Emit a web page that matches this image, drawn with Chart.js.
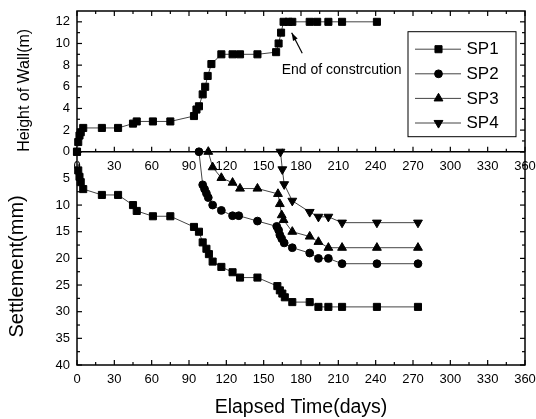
<!DOCTYPE html>
<html>
<head>
<meta charset="utf-8">
<style>
html,body{margin:0;padding:0;background:#fff;}
#wrap{width:536px;height:419px;position:relative;}
</style>
<script src="https://cdn.jsdelivr.net/npm/chart.js@4.4.1/dist/chart.umd.min.js"></script>
</head>
<body>
<div id="wrap"><canvas id="c" width="536" height="419"></canvas></div>
<script>
// ---------- data ----------
const xTicks = [0, 30, 60, 90, 120, 150, 180, 210, 240, 270, 300, 330, 360];
const heightTicks = [0, 2, 4, 6, 8, 10, 12];
const settleTicks = [0, 5, 10, 15, 20, 25, 30, 35, 40];
const seriesNames = ['SP1', 'SP2', 'SP3', 'SP4'];

const wallDays   = [0, 1, 2, 3, 5, 20, 33, 45, 48, 61, 75, 94, 96, 98, 101, 103, 105, 108, 116, 125, 131, 145, 160, 162, 164, 166, 170, 173, 187, 193, 202, 213, 241];
const wallHeight = [0, 0.9, 1.5, 1.8, 2.2, 2.2, 2.2, 2.6, 2.8, 2.8, 2.8, 3.3, 3.9, 4.2, 5.3, 6.0, 7.0, 8.1, 9.0, 9.0, 9.0, 9.0, 9.2, 10.0, 11.0, 12, 12, 12, 12, 12, 12, 12, 12];

const sp1Days   = [0, 1, 2, 3, 5, 20, 33, 45, 48, 61, 75, 94, 98, 101, 104, 106, 109, 116, 125, 131, 145, 161, 163, 165, 167, 173, 187, 194, 202, 213, 241, 274];
const sp1Settle = [0, 3.5, 4.7, 5.7, 7.0, 8.1, 8.1, 10.0, 11.1, 12.1, 12.1, 14.1, 15.0, 17.0, 18.2, 19.2, 20.6, 21.6, 22.6, 23.6, 23.6, 25.2, 26.0, 26.6, 27.3, 28.2, 28.2, 29.1, 29.1, 29.1, 29.1, 29.1];

const sp2Days   = [98, 101, 102.5, 104, 105.5, 109, 116, 125, 130, 145, 160.5, 162, 163, 164.5, 166.5, 173, 187, 194, 202, 213, 241, 274];
const sp2Settle = [0, 6.2, 7.0, 7.8, 8.6, 10.0, 11.0, 12.0, 12.0, 13.0, 14.0, 14.7, 15.6, 16.3, 17.1, 18.0, 19.0, 20.0, 20.0, 21.0, 21.0, 21.0];

const sp3Days   = [105.5, 109, 116, 125, 131, 145, 161.5, 163, 164.5, 166, 173, 187, 194, 202, 213, 241, 274];
const sp3Settle = [0, 2.9, 4.9, 5.8, 6.9, 6.9, 7.9, 9.8, 11.9, 12.8, 15.0, 15.9, 16.9, 18.0, 18.0, 18.0, 18.0];

const sp4Days   = [163.5, 165, 166.5, 173, 187, 194, 202, 213, 241, 274];
const sp4Settle = [0, 3.3, 6.1, 9.2, 11.3, 12.2, 12.2, 13.3, 13.3, 13.3];

// ---------- styling ----------
const FONT = "'Liberation Sans', Arial, Helvetica, sans-serif";
const LINE = '#444';
const markers = [
  {pointStyle: 'rect', radius: 5.0, rotation: 0},
  {pointStyle: 'circle', radius: 3.9, rotation: 0},
  {pointStyle: 'triangle', radius: 5.1, rotation: 0},
  {pointStyle: 'triangle', radius: 5.1, rotation: 180}
];

function pts(xs, ys) { return xs.map((d, i) => ({x: d, y: ys[i]})); }

function ds(label, data, axis, m) {
  return {
    label: label, data: data, yAxisID: axis, xAxisID: 'x',
    showLine: true, borderColor: LINE, borderWidth: 1,
    pointStyle: m.pointStyle, pointRadius: m.radius, pointRotation: m.rotation,
    pointBackgroundColor: '#000', pointBorderColor: '#000', pointBorderWidth: 1,
    pointHoverRadius: m.radius, clip: false
  };
}

function zeroPad(s) { s.paddingLeft = 0; s.paddingRight = 0; s.paddingTop = 0; s.paddingBottom = 0; }

const tickFont = {family: FONT, size: 13};

function xScale(extra) {
  return Object.assign({
    type: 'linear', min: 0, max: 360,
    afterBuildTicks: s => { s.ticks = xTicks.map(v => ({value: v})); },
    ticks: {font: tickFont, color: '#000', padding: 7, maxRotation: 0, autoSkip: false},
    grid: {display: false, drawTicks: false},
    border: {display: false}
  }, extra);
}

// vertical nudge of the y-axis titles, as in the reference
const titleShift = {yH: 9, yS: 8};

// ---------- frame + inward tick marks, legend, annotation ----------
const framePlugin = {
  id: 'frame',
  afterLayout(chart) {
    Object.keys(titleShift).forEach(id => {
      const sc = chart.scales[id];
      if (sc && !sc._shiftPatched) {
        const orig = sc.drawTitle;
        sc.drawTitle = function () {
          this.ctx.save();
          this.ctx.translate(0, titleShift[id]);
          orig.apply(this, arguments);
          this.ctx.restore();
        };
        sc._shiftPatched = true;
      }
    });
  },
  beforeDatasetsDraw(chart) {
    const ctx = chart.ctx;
    const x = chart.scales.x, yH = chart.scales.yH, yS = chart.scales.yS;
    const L = x.left, R = x.right, T = yH.top, M = yH.bottom, B = yS.bottom;
    const line = (a, b, c, d) => { ctx.beginPath(); ctx.moveTo(a, b); ctx.lineTo(c, d); ctx.stroke(); };
    const withMinor = arr => {
      const out = [];
      arr.forEach((v, i) => {
        out.push({v: v, major: true});
        if (i < arr.length - 1) out.push({v: (v + arr[i + 1]) / 2, major: false});
      });
      return out;
    };
    ctx.save();
    ctx.strokeStyle = '#000';
    ctx.lineWidth = 1.2;
    withMinor(xTicks).forEach(t => {
      const px = x.getPixelForValue(t.v), len = t.major ? 5 : 3;
      line(px, T, px, T + len);
      line(px, M, px, M - len);
      line(px, B, px, B - len);
    });
    withMinor(heightTicks).forEach(t => {
      const py = yH.getPixelForValue(t.v), len = t.major ? 5 : 3;
      line(L, py, L + len, py);
      line(R, py, R - len, py);
    });
    withMinor(settleTicks).forEach(t => {
      const py = yS.getPixelForValue(t.v), len = t.major ? 5 : 3;
      line(L, py, L + len, py);
      line(R, py, R - len, py);
    });
    ctx.lineWidth = 1.5;
    ctx.strokeRect(L, T, R - L, B - T);
    line(L, M, R, M);
    ctx.restore();
  },
  afterDraw(chart) {
    const ctx = chart.ctx;
    const x = chart.scales.x, yH = chart.scales.yH;
    const area = chart.chartArea;
    ctx.save();
    // annotation
    ctx.fillStyle = '#000';
    ctx.font = '14px ' + FONT;
    ctx.textAlign = 'left';
    ctx.textBaseline = 'middle';
    ctx.fillText('End of constrcution', x.getPixelForValue(164.5), yH.getPixelForValue(7.5));
    const tx = x.getPixelForValue(172.5), ty = yH.getPixelForValue(11);
    const sx = x.getPixelForValue(181), sy = yH.getPixelForValue(9.1);
    ctx.strokeStyle = '#000';
    ctx.lineWidth = 1.2;
    ctx.beginPath(); ctx.moveTo(sx, sy); ctx.lineTo(tx, ty); ctx.stroke();
    const ang = Math.atan2(ty - sy, tx - sx);
    const hl = 8, hw = 2.6;
    ctx.beginPath();
    ctx.moveTo(tx, ty);
    ctx.lineTo(tx - hl * Math.cos(ang) + hw * Math.sin(ang), ty - hl * Math.sin(ang) - hw * Math.cos(ang));
    ctx.lineTo(tx - hl * Math.cos(ang) - hw * Math.sin(ang), ty - hl * Math.sin(ang) + hw * Math.cos(ang));
    ctx.closePath();
    ctx.fill();

    // legend box
    const bw = 108, bh = 105;
    const bx = area.right - 117, by = area.top + 20.7;
    ctx.fillStyle = '#fff';
    ctx.fillRect(bx, by, bw, bh);
    ctx.strokeStyle = '#000';
    ctx.lineWidth = 1;
    ctx.strokeRect(bx, by, bw, bh);
    ctx.font = '17px ' + FONT;
    ctx.textAlign = 'left';
    ctx.textBaseline = 'middle';
    const dsets = chart.data.datasets.slice(1);
    dsets.forEach((d, i) => {
      const ry = by + 17.5 + i * 24.6;
      ctx.strokeStyle = LINE;
      ctx.lineWidth = 1;
      ctx.beginPath(); ctx.moveTo(bx + 7, ry); ctx.lineTo(bx + 53, ry); ctx.stroke();
      ctx.fillStyle = '#000';
      ctx.strokeStyle = '#000';
      Chart.helpers.drawPoint(ctx, {pointStyle: d.pointStyle, radius: d.pointRadius, rotation: d.pointRotation, borderWidth: 1}, bx + 30.5, ry);
      ctx.fillStyle = '#000';
      ctx.fillText(d.label, bx + 58.5, ry + 0.5);
    });
    ctx.restore();
  }
};

new Chart(document.getElementById('c'), {
  type: 'scatter',
  data: {
    datasets: [
      ds('Wall', pts(wallDays, wallHeight), 'yH', markers[0]),
      ds(seriesNames[0], pts(sp1Days, sp1Settle), 'yS', markers[0]),
      ds(seriesNames[1], pts(sp2Days, sp2Settle), 'yS', markers[1]),
      ds(seriesNames[2], pts(sp3Days, sp3Settle), 'yS', markers[2]),
      ds(seriesNames[3], pts(sp4Days, sp4Settle), 'yS', markers[3])
    ]
  },
  options: {
    responsive: false,
    devicePixelRatio: 1,
    animation: false,
    layout: {padding: {left: 0, right: 11, top: 11, bottom: 0}},
    plugins: {legend: {display: false}, tooltip: {enabled: false}},
    scales: {
      x: xScale({
        position: 'bottom',
        title: {display: true, text: 'Elapsed Time(days)', color: '#000', font: {family: FONT, size: 19.5}, padding: {top: 0, bottom: 0}},
        afterFit: s => { s.height = 54; zeroPad(s); }
      }),
      xMid: xScale({
        position: {yH: 0},
        afterFit: s => { zeroPad(s); }
      }),
      yH: {
        type: 'linear', position: 'left', stack: 'v', stackWeight: 140.8, weight: 2,
        min: 0, max: 13,
        afterBuildTicks: s => { s.ticks = heightTicks.map(v => ({value: v})); },
        ticks: {font: tickFont, color: '#000', padding: 7, autoSkip: false},
        grid: {display: false, drawTicks: false},
        border: {display: false},
        title: {display: true, text: 'Height of Wall(m)', color: '#000', font: {family: FONT, size: 16}, padding: {top: 15.4, bottom: 0}},
        afterFit: s => { s.width = 77; zeroPad(s); }
      },
      yS: {
        type: 'linear', position: 'left', stack: 'v', stackWeight: 213.3, weight: 1,
        min: 0, max: 40, reverse: true,
        afterBuildTicks: s => { s.ticks = settleTicks.map(v => ({value: v})); },
        ticks: {font: tickFont, color: '#000', padding: 7, autoSkip: false, callback: v => (v === 0 ? '' : v)},
        grid: {display: false, drawTicks: false},
        border: {display: false},
        title: {display: true, text: 'Settlement(mm)', color: '#000', font: {family: FONT, size: 20}, padding: {top: 5, bottom: 0}},
        afterFit: s => { s.width = 77; zeroPad(s); }
      }
    }
  },
  plugins: [framePlugin]
});
</script>
</body>
</html>
